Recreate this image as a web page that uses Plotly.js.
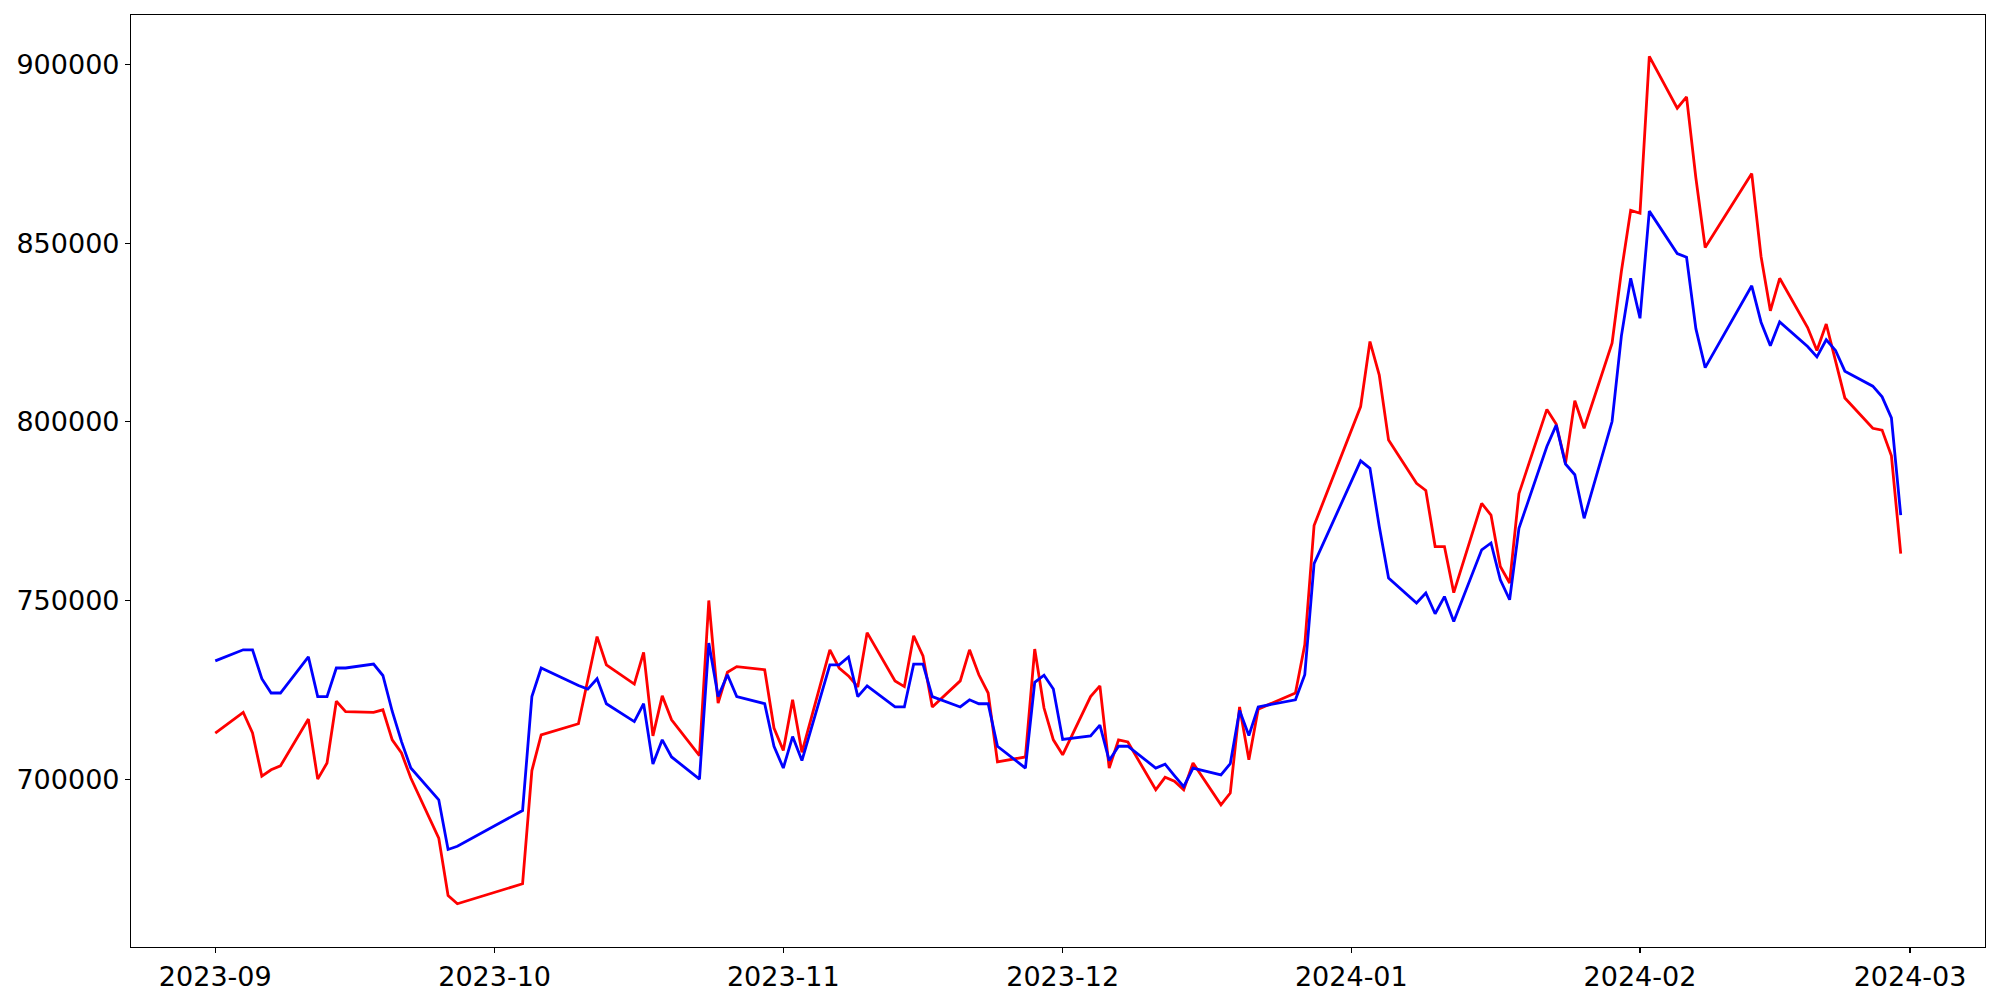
<!DOCTYPE html>
<html>
<head>
<meta charset="utf-8">
<script src="https://cdn.plot.ly/plotly-3.0.1.min.js"></script>
<style>
  html, body { margin: 0; padding: 0; background: #ffffff; }
  #chart { width: 2000px; height: 1000px; }
</style>
</head>
<body>
<div id="chart"></div>
<script>
// Trading dates (KRX calendar, Sep 2023 - Feb 2024)
const dates = [
  "2023-09-01","2023-09-04","2023-09-05","2023-09-06","2023-09-07","2023-09-08","2023-09-11","2023-09-12","2023-09-13","2023-09-14","2023-09-15","2023-09-18","2023-09-19","2023-09-20","2023-09-21","2023-09-22","2023-09-25","2023-09-26","2023-09-27",
  "2023-10-04","2023-10-05","2023-10-06","2023-10-10","2023-10-11","2023-10-12","2023-10-13","2023-10-16","2023-10-17","2023-10-18","2023-10-19","2023-10-20","2023-10-23","2023-10-24","2023-10-25","2023-10-26","2023-10-27","2023-10-30","2023-10-31",
  "2023-11-01","2023-11-02","2023-11-03","2023-11-06","2023-11-07","2023-11-08","2023-11-09","2023-11-10","2023-11-13","2023-11-14","2023-11-15","2023-11-16","2023-11-17","2023-11-20","2023-11-21","2023-11-22","2023-11-23","2023-11-24","2023-11-27","2023-11-28","2023-11-29","2023-11-30",
  "2023-12-01","2023-12-04","2023-12-05","2023-12-06","2023-12-07","2023-12-08","2023-12-11","2023-12-12","2023-12-13","2023-12-14","2023-12-15","2023-12-18","2023-12-19","2023-12-20","2023-12-21","2023-12-22","2023-12-26","2023-12-27","2023-12-28",
  "2024-01-02","2024-01-03","2024-01-04","2024-01-05","2024-01-08","2024-01-09","2024-01-10","2024-01-11","2024-01-12","2024-01-15","2024-01-16","2024-01-17","2024-01-18","2024-01-19","2024-01-22","2024-01-23","2024-01-24","2024-01-25","2024-01-26","2024-01-29","2024-01-30","2024-01-31",
  "2024-02-01","2024-02-02","2024-02-05","2024-02-06","2024-02-07","2024-02-08","2024-02-13","2024-02-14","2024-02-15","2024-02-16","2024-02-19","2024-02-20","2024-02-21","2024-02-22","2024-02-23","2024-02-26","2024-02-27","2024-02-28","2024-02-29"
];

// Red series values
const redValues = [
  712900,718700,712900,700800,702600,703700,716800,700000,704500,721800,718900,718700,719400,711000,707300,700300,683500,667400,665100,
  670700,702400,712400,715500,727800,739900,732000,726600,735500,712100,723300,716600,706600,750000,721300,729900,731500,730600,714300,
  708000,722200,707500,736200,731100,728900,725800,741000,727500,725900,740100,734500,720200,727500,736200,729200,724100,704800,706200,736400,719900,711000,
  706800,723100,726100,703100,711000,710400,697000,700500,699400,697000,704500,692800,696100,720200,705400,719600,724100,737600,771000,
  804300,822500,813100,794900,782800,780800,765100,765100,752200,777200,773900,759500,754900,779900,803500,799400,788400,805900,798200,822000,842100,859200,
  858400,902300,887800,891000,868300,848800,869500,846300,831100,840200,826400,820000,827400,817300,806700,798200,797700,790500,763100
];

// Blue series values
const blueValues = [
  733100,736200,736200,728100,724100,724100,734200,723100,723100,731100,731100,732200,729000,719000,710500,703100,694200,680300,681200,
  691200,723100,731100,726200,725200,728100,721100,716100,721100,704200,711000,706200,700000,738100,723100,729200,723100,721100,709200,
  703100,711900,705200,732000,732000,734200,723100,726100,720200,720200,732200,732200,723100,720200,722200,721100,721100,709200,703100,727100,729100,725200,
  711100,712100,715100,705200,709200,709200,703100,704200,701000,697900,703100,701200,704300,719200,712200,720200,722200,729200,760300,
  789100,787000,770700,756300,749300,752100,746300,751100,744100,764200,766100,755800,750200,770200,793100,799100,788200,785200,773000,800100,824000,840200,
  829000,859000,847100,846100,826100,815200,838100,827900,821300,828000,821100,818200,823000,820000,814200,810000,807000,801100,773900
];

// Axis ticks
const xTickVals = ["2023-09-01","2023-10-01","2023-11-01","2023-12-01","2024-01-01","2024-02-01","2024-03-01"];
const xTickText = ["2023-09","2023-10","2023-11","2023-12","2024-01","2024-02","2024-03"];
const yTickVals = [700000, 750000, 800000, 850000, 900000];

const traces = [
  { x: dates, y: redValues, type: "scatter", mode: "lines", name: "red",
    line: { color: "#ff0000", width: 2.8 }, showlegend: false, hoverinfo: "skip" },
  { x: dates, y: blueValues, type: "scatter", mode: "lines", name: "blue",
    line: { color: "#0000ff", width: 2.8 }, showlegend: false, hoverinfo: "skip" }
];

const axisFont = { family: "DejaVu Sans, sans-serif", size: 27, color: "#000000" };

const layout = {
  width: 2000, height: 1000,
  paper_bgcolor: "#ffffff", plot_bgcolor: "#ffffff",
  margin: { l: 131, r: 15, t: 15, b: 53, pad: 0 },
  showlegend: false,
  xaxis: {
    type: "date",
    range: ["2023-08-22 22:48", "2024-03-09 01:12"],
    tickmode: "array", tickvals: xTickVals, ticktext: xTickText,
    ticks: "outside", ticklen: 5, tickwidth: 1.1, tickcolor: "#000000",
    showgrid: false, zeroline: false,
    showline: true, linecolor: "#000000", linewidth: 1.1, mirror: true,
    tickfont: axisFont
  },
  yaxis: {
    range: [653000, 913900],
    tickmode: "array", tickvals: yTickVals, tickformat: "d",
    ticks: "outside", ticklen: 5, tickwidth: 1.1, tickcolor: "#000000",
    showgrid: false, zeroline: false,
    showline: true, linecolor: "#000000", linewidth: 1.1, mirror: true,
    tickfont: axisFont
  }
};

Plotly.newPlot("chart", traces, layout, { staticPlot: true, displayModeBar: false });
</script>
</body>
</html>
